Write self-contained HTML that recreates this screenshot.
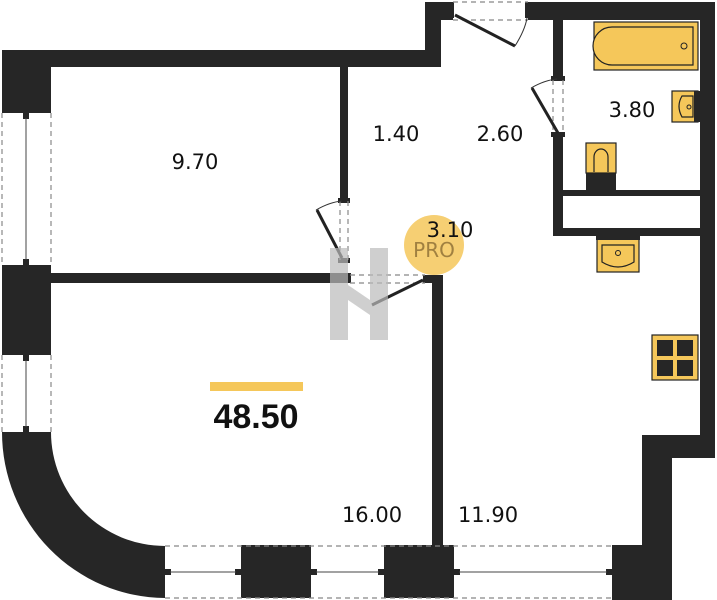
<!DOCTYPE html>
<html><head><meta charset="utf-8"><style>
html,body{margin:0;padding:0;background:#fff;}
svg{display:block;}
text{font-family:"DejaVu Sans","Liberation Sans",sans-serif;fill:#111;}
</style></head><body>
<svg width="717" height="600" viewBox="0 0 717 600" xmlns="http://www.w3.org/2000/svg">
<g fill="#262626">
<rect x="2" y="50" width="439" height="17"/>
<rect x="2" y="50" width="49" height="63"/>
<rect x="425" y="2" width="16" height="65"/>
<rect x="425" y="2" width="28" height="18"/>
<rect x="528" y="2" width="187" height="18"/>
<rect x="700" y="2" width="15" height="456"/>
<rect x="642" y="435" width="73" height="23"/>
<rect x="642" y="435" width="30" height="165"/>
<rect x="612" y="545" width="60" height="55"/>
<rect x="2" y="265" width="49" height="90"/>
<path d="M2 432 L51 432 A114 114 0 0 0 165 546 L165 598 A164 166 0 0 1 2 432 Z"/>
<rect x="241" y="545" width="70" height="53"/>
<rect x="384" y="545" width="70" height="53"/>
<rect x="340" y="67" width="8" height="134"/>
<rect x="51" y="273" width="300" height="10"/>
<rect x="432" y="275" width="11" height="272"/>
<rect x="553" y="20" width="10" height="58"/>
<rect x="553" y="135" width="10" height="101"/>
<rect x="563" y="190" width="137" height="6"/>
<rect x="563" y="228" width="137" height="8"/>
<rect x="586" y="172" width="30" height="18"/>
<rect x="338" y="198" width="12" height="5"/>
<rect x="338" y="258" width="12" height="5"/>
<rect x="423" y="275" width="10" height="8"/>
<rect x="551" y="76" width="14" height="5"/>
<rect x="551" y="132" width="14" height="5"/>
<rect x="450" y="2" width="4" height="16"/>
<rect x="525" y="2" width="4" height="16"/>
<rect x="23" y="113" width="6" height="6"/><rect x="23" y="259" width="6" height="6"/>
<rect x="23" y="355" width="6" height="6"/><rect x="23" y="426" width="6" height="6"/>
<rect x="165" y="569" width="6" height="6"/><rect x="235" y="569" width="6" height="6"/>
<rect x="311" y="569" width="6" height="6"/><rect x="378" y="569" width="6" height="6"/>
<rect x="454" y="569" width="6" height="6"/><rect x="606" y="569" width="6" height="6"/>
</g>
<g stroke="#888" stroke-width="1.2" stroke-dasharray="5,4" fill="none">
<line x1="2" y1="113" x2="2" y2="265"/><line x1="51" y1="113" x2="51" y2="265"/>
<line x1="2" y1="355" x2="2" y2="432"/><line x1="51" y1="355" x2="51" y2="432"/>
<line x1="165" y1="546" x2="612" y2="546"/><line x1="165" y1="598" x2="612" y2="598"/>
<line x1="453" y1="2" x2="528" y2="2"/><line x1="453" y1="20" x2="528" y2="20"/>
<line x1="340" y1="201" x2="340" y2="260"/><line x1="348" y1="201" x2="348" y2="260"/>
<line x1="553" y1="80" x2="553" y2="133"/><line x1="563" y1="80" x2="563" y2="133"/>
<line x1="350" y1="275" x2="425" y2="275"/><line x1="350" y1="283" x2="425" y2="283"/>
</g>
<g stroke="#444" stroke-width="1">
<line x1="26" y1="118" x2="26" y2="260"/><line x1="26" y1="360" x2="26" y2="427"/>
<line x1="170" y1="572" x2="236" y2="572"/><line x1="316" y1="572" x2="379" y2="572"/><line x1="459" y1="572" x2="607" y2="572"/>
</g>
<g stroke="#222" stroke-width="3" fill="none">
<line x1="342" y1="258" x2="317" y2="210"/>
<line x1="455" y1="15" x2="515" y2="46"/>
<line x1="558" y1="133" x2="532" y2="88"/>
<line x1="423" y1="280" x2="372" y2="305"/>
</g>
<g stroke="#333" stroke-width="1" fill="none">
<path d="M316 210 Q330 202 342 201"/>
<path d="M515 46 Q525 30 527 18"/>
<path d="M531 88 Q545 80 557 79"/>
</g>
<g fill="#bbb" opacity="0.7">
<rect x="330" y="248" width="18" height="92"/>
<rect x="370" y="248" width="18" height="92"/>
<polygon points="348,285 370,300 370,315 348,300"/>
</g>
<circle cx="434" cy="245" r="30" fill="#f5c75a" opacity="0.85"/>
<text x="434" y="257" font-size="20" text-anchor="middle" style="fill:#a08040">PRO</text>
<g fill="#f5c75a" stroke="#222" stroke-width="1.2">
<rect x="594" y="22" width="104" height="48"/>
<path d="M612 27 L693 27 L693 65 L612 65 A19 19 0 0 1 612 27 Z"/>
<rect x="672" y="91" width="26" height="31"/>
<path d="M693 96 L682 96 Q676 106 682 117 L693 117 Z"/>
<rect x="586" y="143" width="30" height="30"/>
<path d="M594 172 L594 157 A7 8 0 0 1 608 157 L608 172"/>
<rect x="597" y="238" width="42" height="34"/>
<path d="M602 245 L634 245 L634 262 Q618 272 602 262 Z"/>
<rect x="652" y="335" width="46" height="45"/>
</g>
<rect x="596" y="235" width="44" height="5" fill="#262626"/>
<rect x="694" y="91" width="6" height="31" fill="#262626"/>
<g fill="#262626">
<rect x="657" y="340" width="16" height="16"/><rect x="677" y="340" width="16" height="16"/>
<rect x="657" y="360" width="16" height="16"/><rect x="677" y="360" width="16" height="16"/>
</g>
<g fill="none" stroke="#222" stroke-width="1">
<circle cx="684" cy="46" r="3"/><circle cx="689" cy="107" r="2"/><circle cx="618" cy="253" r="2.5"/>
</g>
<g font-size="21">
<text x="195" y="169" text-anchor="middle">9.70</text>
<text x="396" y="141" text-anchor="middle">1.40</text>
<text x="500" y="141" text-anchor="middle">2.60</text>
<text x="632" y="117" text-anchor="middle">3.80</text>
<text x="450" y="237" text-anchor="middle">3.10</text>
<text x="372" y="522" text-anchor="middle">16.00</text>
<text x="488" y="522" text-anchor="middle">11.90</text>
</g>
<rect x="210" y="382" width="93" height="9" fill="#f5c75a"/>
<text x="256" y="428" font-size="34" font-weight="bold" text-anchor="middle" style="font-family:'Liberation Sans',sans-serif">48.50</text>
</svg>
</body></html>
